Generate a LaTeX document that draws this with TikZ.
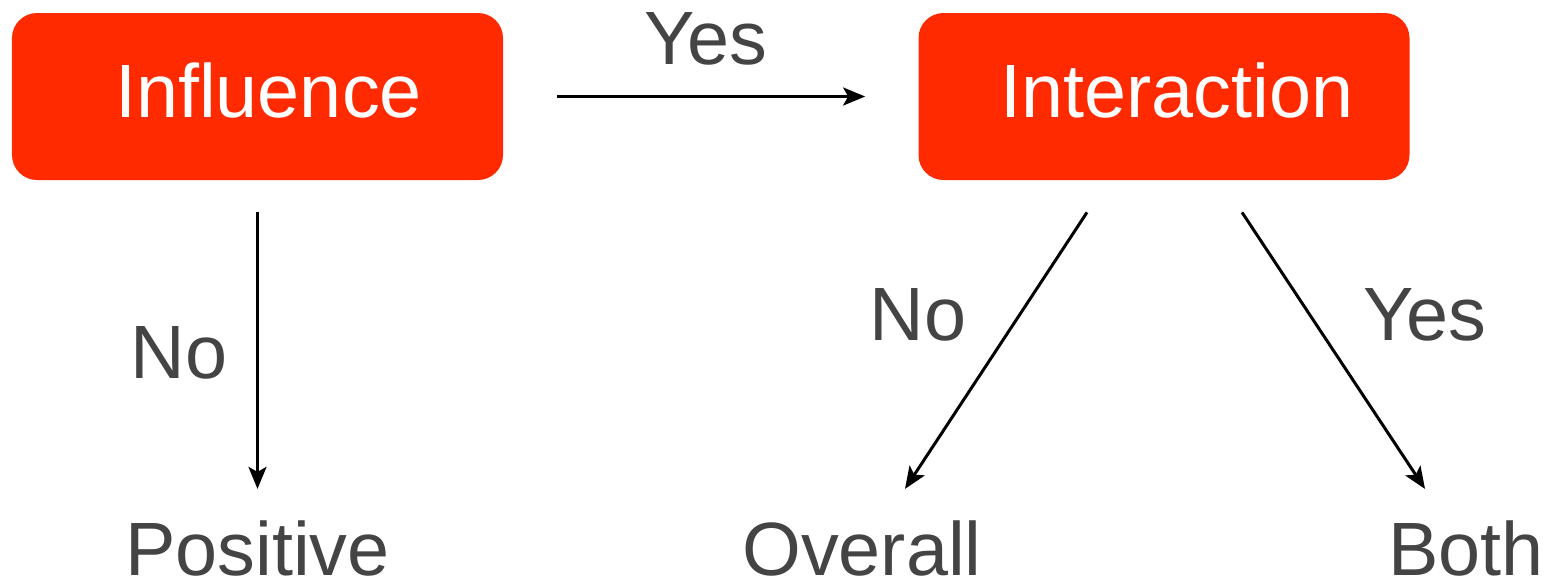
\documentclass[tikz,border=0pt]{standalone}
\usepackage{fontspec}
\setmainfont{Liberation Sans}
\usetikzlibrary{arrows.meta,calc}
\definecolor{boxred}{RGB}{255,42,0}
\definecolor{txtgray}{RGB}{68,68,68}
\begin{document}
\begin{tikzpicture}[
    box/.style={fill=boxred,rounded corners=0.5cm,minimum width=9.82cm,minimum height=3.34cm,
      text depth=0.24cm,text=white,font=\fontsize{43}{50}\selectfont},
    lbl/.style={text=txtgray,font=\fontsize{43}{50}\selectfont,inner sep=0pt},
    arr/.style={line width=1.7pt,-{Stealth[length=0.44cm,width=0.36cm,inset=0.1cm]}}]
        \useasboundingbox (0,0) rectangle (30.98,-11.62);
        % boxes
        \node[box] (inf) at (5.15,-1.93) {\hspace*{0.44cm}Influence};
        \node[box] (int) at (23.28,-1.93) {\hspace*{0.52cm}Interaction};

        % outcomes
        \node[lbl,anchor=base] (pos) at (5.15,-11.5) {Positive};
        \node[lbl,anchor=base] (ovr) at (17.24,-11.5) {Overall};
        \node[lbl,anchor=base] (both) at (29.32,-11.5) {Both};

        % answers
        \node[lbl,anchor=base] (yestop) at (14.12,-1.28) {Yes};
        \node[lbl,anchor=base] (noleft) at (3.58,-7.56) {No};
        \node[lbl,anchor=base] (nomid) at (18.36,-6.8) {No};
        \node[lbl,anchor=base] (yesright) at (28.5,-6.8) {Yes};

        % arrows
        \draw[arr,shorten <=1.08cm,shorten >=1.06cm] (inf.east)--(int.west);
        \draw[arr,shorten <=0.64cm,shorten >=0.62cm] (inf.south)--(inf.south |- pos.north);
        \draw[arr] ($(int.south)+(-1.54,-0.64)$)--($(ovr.north)+(0.86,0.62)$);
        \draw[arr] ($(int.south)+(1.56,-0.64)$)--($(both.north)+(-0.82,0.62)$);
\end{tikzpicture}
\end{document}
